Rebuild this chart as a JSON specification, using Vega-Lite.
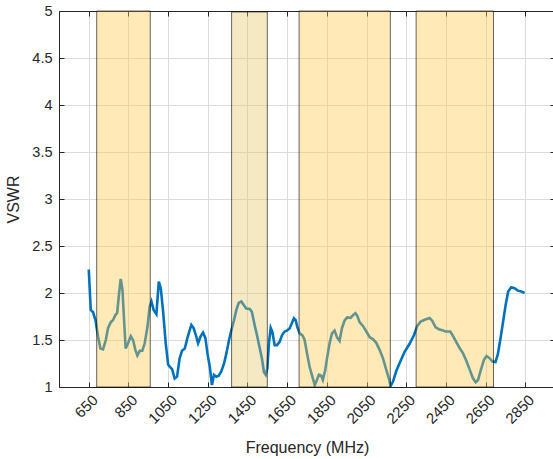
{
  "$schema": "https://vega.github.io/schema/vega-lite/v6.json",
  "autosize": "none",
  "width": 496,
  "height": 376,
  "padding": {"left": 59, "top": 11, "right": 0, "bottom": 72},
  "background": "white",
  "config": {
    "view": {"stroke": null},
    "font": "Liberation Sans",
    "axis": {
      "domainColor": "#262626",
      "tickColor": "#262626",
      "labelColor": "#262626",
      "titleColor": "#262626",
      "labelFont": "Liberation Sans",
      "titleFont": "Liberation Sans",
      "labelFontSize": 14,
      "titleFontSize": 16,
      "titleFontWeight": "normal",
      "gridColor": "#dcdcdc",
      "gridOpacity": 1
    }
  },
  "datasets": {
    "vswr": [
      {"f": 650, "v": 2.25}, {"f": 660, "v": 1.82}, {"f": 672, "v": 1.795}, {"f": 684, "v": 1.71},
      {"f": 697, "v": 1.535}, {"f": 709, "v": 1.41}, {"f": 722, "v": 1.40}, {"f": 736, "v": 1.50},
      {"f": 747, "v": 1.625}, {"f": 761, "v": 1.69}, {"f": 772, "v": 1.71}, {"f": 784, "v": 1.765},
      {"f": 793, "v": 1.785}, {"f": 803, "v": 2.0}, {"f": 811, "v": 2.15}, {"f": 820, "v": 2.03},
      {"f": 828, "v": 1.71}, {"f": 836, "v": 1.41}, {"f": 848, "v": 1.465}, {"f": 862, "v": 1.54},
      {"f": 873, "v": 1.50}, {"f": 885, "v": 1.395}, {"f": 895, "v": 1.335}, {"f": 907, "v": 1.385},
      {"f": 920, "v": 1.385}, {"f": 932, "v": 1.465}, {"f": 946, "v": 1.64}, {"f": 957, "v": 1.855},
      {"f": 966, "v": 1.91}, {"f": 977, "v": 1.82}, {"f": 991, "v": 1.775}, {"f": 1003, "v": 2.12},
      {"f": 1013, "v": 2.05}, {"f": 1024, "v": 1.82}, {"f": 1038, "v": 1.465}, {"f": 1050, "v": 1.24},
      {"f": 1058, "v": 1.215}, {"f": 1070, "v": 1.19}, {"f": 1083, "v": 1.09}, {"f": 1095, "v": 1.11},
      {"f": 1108, "v": 1.305}, {"f": 1120, "v": 1.385}, {"f": 1134, "v": 1.41}, {"f": 1147, "v": 1.52},
      {"f": 1159, "v": 1.605}, {"f": 1167, "v": 1.66}, {"f": 1179, "v": 1.625}, {"f": 1192, "v": 1.535},
      {"f": 1201, "v": 1.465}, {"f": 1214, "v": 1.54}, {"f": 1226, "v": 1.58}, {"f": 1238, "v": 1.52},
      {"f": 1248, "v": 1.36}, {"f": 1260, "v": 1.215}, {"f": 1271, "v": 1.02}, {"f": 1281, "v": 1.13},
      {"f": 1293, "v": 1.11}, {"f": 1305, "v": 1.12}, {"f": 1318, "v": 1.165}, {"f": 1332, "v": 1.25},
      {"f": 1344, "v": 1.36}, {"f": 1357, "v": 1.50}, {"f": 1369, "v": 1.605}, {"f": 1382, "v": 1.71},
      {"f": 1394, "v": 1.82}, {"f": 1406, "v": 1.895}, {"f": 1419, "v": 1.91}, {"f": 1432, "v": 1.87},
      {"f": 1444, "v": 1.835}, {"f": 1461, "v": 1.83}, {"f": 1472, "v": 1.80}, {"f": 1486, "v": 1.66},
      {"f": 1498, "v": 1.55}, {"f": 1511, "v": 1.42}, {"f": 1523, "v": 1.30}, {"f": 1533, "v": 1.16},
      {"f": 1542, "v": 1.13}, {"f": 1550, "v": 1.2}, {"f": 1558, "v": 1.465}, {"f": 1567, "v": 1.63},
      {"f": 1575, "v": 1.59}, {"f": 1587, "v": 1.445}, {"f": 1599, "v": 1.445}, {"f": 1612, "v": 1.48},
      {"f": 1624, "v": 1.55}, {"f": 1637, "v": 1.59}, {"f": 1649, "v": 1.60}, {"f": 1663, "v": 1.625},
      {"f": 1674, "v": 1.68}, {"f": 1684, "v": 1.73}, {"f": 1693, "v": 1.71}, {"f": 1701, "v": 1.64},
      {"f": 1713, "v": 1.57}, {"f": 1727, "v": 1.55}, {"f": 1738, "v": 1.50}, {"f": 1750, "v": 1.36},
      {"f": 1763, "v": 1.215}, {"f": 1777, "v": 1.11}, {"f": 1789, "v": 1.02}, {"f": 1800, "v": 1.075},
      {"f": 1810, "v": 1.13}, {"f": 1822, "v": 1.12}, {"f": 1830, "v": 1.075}, {"f": 1842, "v": 1.18},
      {"f": 1852, "v": 1.32}, {"f": 1864, "v": 1.465}, {"f": 1876, "v": 1.57}, {"f": 1889, "v": 1.60},
      {"f": 1901, "v": 1.53}, {"f": 1914, "v": 1.49}, {"f": 1926, "v": 1.625}, {"f": 1940, "v": 1.71},
      {"f": 1953, "v": 1.74}, {"f": 1970, "v": 1.735}, {"f": 1982, "v": 1.765}, {"f": 1994, "v": 1.785},
      {"f": 2004, "v": 1.755}, {"f": 2015, "v": 1.69}, {"f": 2032, "v": 1.65}, {"f": 2049, "v": 1.59},
      {"f": 2066, "v": 1.53}, {"f": 2082, "v": 1.51}, {"f": 2099, "v": 1.47}, {"f": 2116, "v": 1.395},
      {"f": 2133, "v": 1.305}, {"f": 2150, "v": 1.18}, {"f": 2163, "v": 1.09}, {"f": 2171, "v": 1.01},
      {"f": 2183, "v": 1.055}, {"f": 2200, "v": 1.17}, {"f": 2217, "v": 1.255}, {"f": 2242, "v": 1.375},
      {"f": 2267, "v": 1.46}, {"f": 2289, "v": 1.55}, {"f": 2306, "v": 1.65}, {"f": 2323, "v": 1.695},
      {"f": 2343, "v": 1.715}, {"f": 2368, "v": 1.735}, {"f": 2381, "v": 1.705}, {"f": 2398, "v": 1.635},
      {"f": 2415, "v": 1.615}, {"f": 2432, "v": 1.605}, {"f": 2448, "v": 1.59}, {"f": 2472, "v": 1.59},
      {"f": 2485, "v": 1.545}, {"f": 2502, "v": 1.48}, {"f": 2519, "v": 1.415}, {"f": 2536, "v": 1.36},
      {"f": 2553, "v": 1.28}, {"f": 2569, "v": 1.19}, {"f": 2586, "v": 1.095}, {"f": 2600, "v": 1.05},
      {"f": 2612, "v": 1.075}, {"f": 2626, "v": 1.18}, {"f": 2642, "v": 1.29}, {"f": 2655, "v": 1.33},
      {"f": 2671, "v": 1.305}, {"f": 2685, "v": 1.27}, {"f": 2700, "v": 1.265}, {"f": 2712, "v": 1.35},
      {"f": 2724, "v": 1.5}, {"f": 2737, "v": 1.675}, {"f": 2751, "v": 1.87}, {"f": 2764, "v": 2.015},
      {"f": 2779, "v": 2.06}, {"f": 2796, "v": 2.05}, {"f": 2813, "v": 2.025}, {"f": 2830, "v": 2.015},
      {"f": 2847, "v": 2.0}
    ],
    "bands": [
      {"start": 690, "end": 960, "lo": 1, "hi": 5, "kind": "a"},
      {"start": 1370, "end": 1550, "lo": 1, "hi": 4.99, "kind": "b"},
      {"start": 1710, "end": 2170, "lo": 1, "hi": 5, "kind": "a"},
      {"start": 2300, "end": 2690, "lo": 1, "hi": 5, "kind": "a"}
    ]
  },
  "layer": [
    {
      "data": {"name": "vswr"},
      "mark": {"type": "line", "color": "#0072BD", "strokeWidth": 2.6, "clip": true},
      "encoding": {
        "x": {
          "field": "f", "type": "quantitative",
          "scale": {"domain": [500, 3000], "nice": false, "zero": false},
          "axis": {
            "values": [650, 850, 1050, 1250, 1450, 1650, 1850, 2050, 2250, 2450, 2650, 2850],
            "format": "d",
            "title": "Frequency (MHz)", "labelAngle": -45, "labelAlign": "right", "labelBaseline": "middle",
            "labelFontSize": 15, "labelOffset": 6,
            "tickSize": -5, "labelPadding": 15, "titlePadding": 13, "grid": true, "labelFlush": false
          }
        },
        "y": {
          "field": "v", "type": "quantitative",
          "scale": {"domain": [1, 5], "nice": false, "zero": false},
          "axis": {
            "values": [1, 1.5, 2, 2.5, 3, 3.5, 4, 4.5, 5],
            "format": "~g", "title": "VSWR", "tickSize": -5, "labelPadding": 12, "titlePadding": 10,
            "labelFontSize": 14.5,
            "grid": true, "labelFlush": false
          }
        }
      }
    },
    {
      "data": {"name": "bands"},
      "mark": {"type": "rect", "stroke": "#000000", "strokeOpacity": 0.6, "strokeWidth": 1},
      "encoding": {
        "x": {"field": "start", "type": "quantitative",
          "axis": {"orient": "top", "labels": false, "title": null, "grid": false, "tickSize": -5,
            "values": [650, 850, 1050, 1250, 1450, 1650, 1850, 2050, 2250, 2450, 2650, 2850]}},
        "x2": {"field": "end"},
        "y": {"field": "lo", "type": "quantitative",
          "axis": {"orient": "right", "labels": false, "title": null, "grid": false, "tickSize": -5,
            "values": [1, 1.5, 2, 2.5, 3, 3.5, 4, 4.5, 5]}},
        "y2": {"field": "hi"},
        "fill": {"field": "kind", "type": "nominal", "scale": {"domain": ["a", "b"], "range": ["#FCC94A", "#E3C45E"]}, "legend": null},
        "fillOpacity": {"field": "kind", "type": "nominal", "scale": {"domain": ["a", "b"], "range": [0.4, 0.38]}, "legend": null}
      }
    }
  ],
  "resolve": {"axis": {"x": "independent", "y": "independent"}}
}
